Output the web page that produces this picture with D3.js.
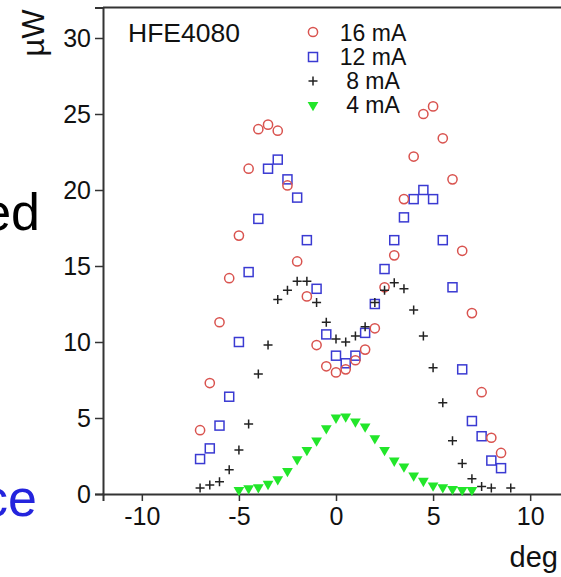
<!DOCTYPE html>
<html>
<head>
<meta charset="utf-8">
<script src="https://cdn.jsdelivr.net/npm/d3@7"></script>
<style>
  html, body { margin: 0; padding: 0; background: #fff; }
  svg { display: block; font-family: "Liberation Sans", Arial, sans-serif; }
</style>
</head>
<body>
<svg id="chart" width="561" height="577"></svg>
<script>
// Angular emission profile of HFE4080 at four drive currents (power in µW vs. angle in degrees)
const deg16 = [-7,-6.5,-6,-5.5,-5,-4.5,-4,-3.5,-3,-2.5,-2,-1.5,-1,-0.5,0,0.5,1,1.5,2,2.5,3,3.5,4,4.5,5,5.5,6,6.5,7,7.5,8,8.5];
const uw16  = [4.2,7.3,11.3,14.2,17.0,21.4,24.0,24.3,23.9,20.3,15.3,13.0,9.8,8.4,8.0,8.2,8.8,9.5,10.9,13.6,15.7,19.4,22.2,25.0,25.5,23.4,20.7,16.0,11.9,6.7,3.7,2.7];

const deg12 = [-7,-6.5,-6,-5.5,-5,-4.5,-4,-3.5,-3,-2.5,-2,-1.5,-1,-0.5,0,0.5,1,1.5,2,2.5,3,3.5,4,4.5,5,5.5,6,6.5,7,7.5,8,8.5];
const uw12  = [2.3,3.0,4.5,6.4,10.0,14.6,18.1,21.4,22.0,20.7,19.5,16.7,13.5,10.5,9.1,8.6,9.1,10.6,12.5,14.8,16.7,18.2,19.4,20.0,19.4,16.7,13.6,8.2,4.8,3.8,2.2,1.7];

const deg8 = [-7,-6.5,-6,-5.5,-5,-4.5,-4,-3.5,-3,-2.5,-2,-1.5,-1,-0.5,0,0.5,1,1.5,2,2.5,3,3.5,4,4.5,5,5.5,6,6.5,7,7.5,8,9];
const uw8  = [0.4,0.6,0.8,1.6,2.9,4.6,7.9,9.8,12.8,13.4,14.0,14.0,12.6,11.3,10.2,10.0,10.4,11.0,12.6,13.4,13.9,13.5,12.1,10.4,8.3,6.0,3.5,2.0,1.0,0.5,0.4,0.4];

const deg4 = [-5,-4.5,-4,-3.5,-3,-2.5,-2,-1.5,-1,-0.5,0,0.5,1,1.5,2,2.5,3,3.5,4,4.5,5,5.5,6,6.5,7];
const uw4  = [0.26,0.37,0.44,0.66,0.96,1.51,2.28,2.89,3.51,4.32,5.02,5.09,4.76,4.43,3.66,2.89,2.19,1.80,1.21,0.86,0.55,0.44,0.33,0.26,0.26];

const xMajor = [-10,-5,0,5,10];
const yMajor = [0,5,10,15,20,25,30];
const seriesNames = ["16 mA","12 mA","8 mA","4 mA"];

const svg = d3.select("#chart");

const x = d3.scaleLinear().domain([-12, 12]).range([103, 569]);
const y = d3.scaleLinear().domain([0, 32]).range([494, 7.6]);

const axisColor = "#333";
const red = "#d9534f", blue = "#3a3ad2", black = "#222", green = "#22e62a";

// Fragments of slide text beside the chart
svg.append("text").attr("x", 40).attr("y", 230).attr("text-anchor", "end")
  .attr("font-size", 52).attr("fill", "#000").text("ed");
svg.append("text").attr("x", 37).attr("y", 516).attr("text-anchor", "end")
  .attr("font-size", 52).attr("fill", "#2424dd").text("ce");

// Frame (top edge) and axes
svg.append("line").attr("x1", x(-12)).attr("x2", x(12)).attr("y1", y(32)).attr("y2", y(32))
  .attr("stroke", axisColor).attr("stroke-width", 2);

const minorX = d3.range(-12, 12.01, 0.5).filter(v => v % 5 !== 0);
const minorY = d3.range(0, 32.01, 1).filter(v => v % 5 !== 0);

const gx = svg.append("g").attr("transform", `translate(0,${y(0)})`);
gx.call(d3.axisBottom(x).tickValues(minorX).tickSize(4).tickFormat(""));
gx.call(d3.axisBottom(x).tickValues(xMajor).tickSize(7).tickPadding(6).tickFormat(d => d < 0 ? "-" + Math.abs(d) : d));

const gy = svg.append("g").attr("transform", `translate(${x(-12)},0)`);
gy.call(d3.axisLeft(y).tickValues(minorY).tickSize(4).tickFormat(""));
gy.call(d3.axisLeft(y).tickValues(yMajor).tickSize(8).tickPadding(4));

[gx, gy].forEach(g => {
  g.selectAll(".domain").attr("stroke", axisColor).attr("stroke-width", 2);
  g.selectAll(".tick line").attr("stroke", axisColor).attr("stroke-width", 1.5);
  g.selectAll("text").attr("font-family", "Liberation Sans, Arial, sans-serif")
    .attr("font-size", 25).attr("fill", "#111");
});

// Axis titles
svg.append("text").attr("transform", "translate(44,33) rotate(-90)")
  .attr("text-anchor", "middle").attr("font-size", 31).attr("fill", "#111").text("µW");
svg.append("text").attr("x", 558).attr("y", 567).attr("text-anchor", "end")
  .attr("font-size", 29).attr("fill", "#111").text("deg");

// Title
svg.append("text").attr("x", 128).attr("y", 42).attr("font-size", 26.5)
  .attr("fill", "#111").text("HFE4080");

// Marker drawers
const sq = 9, pl = 9;
function circles(g, xs, ys) {
  g.selectAll("circle.m").data(xs.map((d, i) => [d, ys[i]])).join("circle").attr("class", "m")
    .attr("cx", d => x(d[0])).attr("cy", d => y(d[1])).attr("r", 4.6)
    .attr("fill", "none").attr("stroke", red).attr("stroke-width", 1.5);
}
function squares(g, xs, ys) {
  g.selectAll("rect.m").data(xs.map((d, i) => [d, ys[i]])).join("rect").attr("class", "m")
    .attr("x", d => x(d[0]) - sq / 2).attr("y", d => y(d[1]) - sq / 2)
    .attr("width", sq).attr("height", sq)
    .attr("fill", "none").attr("stroke", blue).attr("stroke-width", 1.5);
}
function pluses(g, xs, ys) {
  g.selectAll("path.m").data(xs.map((d, i) => [d, ys[i]])).join("path").attr("class", "m")
    .attr("d", d => {
      const cx = x(d[0]), cy = y(d[1]), h = pl / 2;
      return `M${cx - h},${cy}H${cx + h}M${cx},${cy - h}V${cy + h}`;
    })
    .attr("stroke", black).attr("stroke-width", 1.5).attr("fill", "none");
}
const tri = d3.symbol().type(d3.symbolTriangle).size(50);
function triangles(g, xs, ys) {
  g.selectAll("path.t").data(xs.map((d, i) => [d, ys[i]])).join("path").attr("class", "t")
    .attr("d", tri)
    .attr("transform", d => `translate(${x(d[0])},${y(d[1])}) rotate(180)`)
    .attr("fill", green).attr("stroke", "none");
}

const plot = svg.append("g");
triangles(plot.append("g"), deg4, uw4);
squares(plot.append("g"), deg12, uw12);
circles(plot.append("g"), deg16, uw16);
pluses(plot.append("g"), deg8, uw8);

// Legend
const lx = 313, ly = [32, 57, 81, 105], tx = 373, ty = [41, 65, 89, 113];
const leg = svg.append("g");
leg.append("circle").attr("cx", lx).attr("cy", ly[0]).attr("r", 4.6)
  .attr("fill", "none").attr("stroke", red).attr("stroke-width", 1.5);
leg.append("rect").attr("x", lx - sq / 2).attr("y", ly[1] - sq / 2).attr("width", sq).attr("height", sq)
  .attr("fill", "none").attr("stroke", blue).attr("stroke-width", 1.5);
leg.append("path").attr("d", `M${lx - 4.5},${ly[2]}H${lx + 4.5}M${lx},${ly[2] - 4.5}V${ly[2] + 4.5}`)
  .attr("stroke", black).attr("stroke-width", 1.5);
leg.append("path").attr("d", tri).attr("transform", `translate(${lx},${ly[3]}) rotate(180)`).attr("fill", green);
leg.selectAll("text").data(seriesNames).join("text")
  .attr("x", tx).attr("y", (d, i) => ty[i]).attr("text-anchor", "middle")
  .attr("font-size", 23).attr("fill", "#111").text(d => d);
</script>
</body>
</html>
